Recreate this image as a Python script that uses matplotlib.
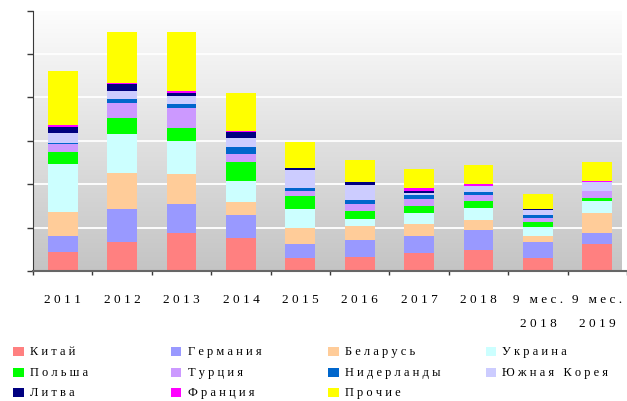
import numpy as np
import matplotlib
matplotlib.use('Agg')
import matplotlib.pyplot as plt
from matplotlib.patches import Rectangle

# шрифт с засечками (аналог Times New Roman)
plt.rcParams['font.family'] = ['Liberation Serif', 'DejaVu Serif']

# категории (годы / периоды)
categories = ['2011', '2012', '2013', '2014', '2015', '2016', '2017', '2018',
              '9 мес.\n2018', '9 мес.\n2019']

# страны (снизу вверх в столбце)
countries = ['Китай', 'Германия', 'Беларусь', 'Украина', 'Польша', 'Турция',
             'Нидерланды', 'Южная Корея', 'Литва', 'Франция', 'Прочие']

china = [0.44, 0.67, 0.87, 0.76, 0.30, 0.32, 0.41, 0.48, 0.30, 0.62]
germany = [0.37, 0.76, 0.68, 0.53, 0.32, 0.39, 0.39, 0.47, 0.37, 0.25]
belarus = [0.55, 0.83, 0.69, 0.30, 0.37, 0.32, 0.28, 0.23, 0.14, 0.46]
ukraine = [1.11, 0.90, 0.76, 0.48, 0.44, 0.18, 0.25, 0.28, 0.21, 0.28]
poland = [0.28, 0.37, 0.30, 0.44, 0.30, 0.18, 0.16, 0.16, 0.12, 0.07]
turkey = [0.17, 0.35, 0.46, 0.18, 0.12, 0.16, 0.16, 0.14, 0.09, 0.16]
netherlands = [0.03, 0.09, 0.08, 0.16, 0.07, 0.09, 0.10, 0.05, 0.05, 0.0]
korea = [0.22, 0.18, 0.20, 0.21, 0.41, 0.35, 0.05, 0.16, 0.12, 0.21]
lithuania = [0.16, 0.16, 0.07, 0.15, 0.05, 0.05, 0.05, 0.0, 0.03, 0.0]
france = [0.03, 0.03, 0.03, 0.02, 0.0, 0.0, 0.06, 0.03, 0.0, 0.03]
others = [1.25, 1.18, 1.38, 0.87, 0.59, 0.51, 0.44, 0.45, 0.34, 0.43]

series = [china, germany, belarus, ukraine, poland, turkey,
          netherlands, korea, lithuania, france, others]
colors = ['#FF8080', '#9999FF', '#FFCC99', '#CCFFFF', '#00FF00', '#CC99FF',
          '#0066CC', '#CCCCFF', '#000080', '#FF00FF', '#FFFF00']


def spaced(s):
    """разрядка текста, как в исходной диаграмме"""
    return '\n'.join(' '.join(line) for line in s.split('\n'))


W, H = 627, 402
fig = plt.figure(figsize=(W / 100, H / 100), dpi=100)

# область построения: слева 33px, низ 272px, верх ~12px, правый край обрезан
ax = fig.add_axes([33 / W, (H - 272) / H, (W - 33) / W, (272 - 11.7) / H])
ax.set_xlim(-0.5, 9.4)
ax.set_ylim(0, 6)

# фон с градиентом
grad = np.linspace(0, 1, 256).reshape(-1, 1)
ax.imshow(grad, extent=(-0.5, 9.4, 0, 6), aspect='auto', origin='lower',
          cmap=matplotlib.colors.LinearSegmentedColormap.from_list(
              'bg', ['#c4c4c4', '#fdfdfd']), zorder=0)

# белая сетка
for yv in range(1, 6):
    ax.axhline(yv, color='white', lw=1.3, zorder=1)

# столбцы с накоплением
x = np.arange(len(categories))
bottom = np.zeros(len(categories))
for vals, col, name in zip(series, colors, countries):
    vals = np.array(vals)
    ax.bar(x, vals, bottom=bottom, width=0.5, color=col, label=name,
           linewidth=0, zorder=2)
    bottom += vals

# оси
ax.spines['top'].set_visible(False)
ax.spines['right'].set_visible(False)
ax.spines['left'].set_color('#3a3a3a')
ax.spines['bottom'].set_color('#666666')
ax.spines['bottom'].set_linewidth(1.5)
ax.set_yticks(range(0, 7))
ax.set_yticklabels([])
ax.tick_params(axis='y', direction='out', length=4.5, width=1, color='#3a3a3a')
ax.set_xticks(np.arange(-0.5, 10, 1.0))
ax.set_xticklabels([])
ax.tick_params(axis='x', which='major', direction='out', length=3, width=1,
               color='#3a3a3a')
ax.set_xticks(x, minor=True)
ax.set_xticklabels([spaced(c) for c in categories], minor=True,
                   fontsize=9.5, linespacing=2.3)
ax.tick_params(axis='x', which='minor', length=0, pad=16)

# легенда (4 колонки, построчно)
for i, (name, col) in enumerate(zip(countries, colors)):
    r, c = divmod(i, 4)
    px = 13 + c * 157.5
    py = 352.5 + r * 20.5
    fig.add_artist(Rectangle((px / W, 1 - (py + 4.5) / H), 10.5 / W, 9 / H,
                             transform=fig.transFigure, color=col, lw=0))
    fig.text((px + 17) / W, 1 - py / H, spaced(name), fontsize=9,
             va='center', ha='left')

fig.savefig('out.png', dpi=100)
